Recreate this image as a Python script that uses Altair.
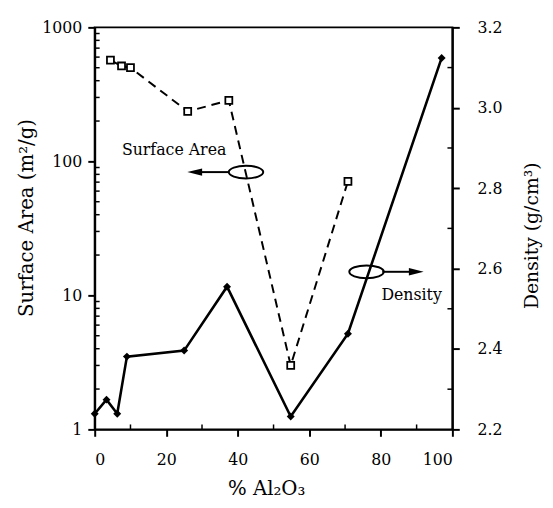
import altair as alt
import pandas as pd

# ---- data ----
dens_x = [0, 3.3, 6.3, 9, 25, 37, 54.8, 70.8, 97]
dens_y = [2.239, 2.274, 2.239, 2.381, 2.396, 2.555, 2.232, 2.438, 3.124]

sa_x = [4.4, 7.5, 10, 26, 37.5, 54.8, 70.8]
sa_y = [570, 515, 500, 236, 285, 3.0, 71]

x_ticks = [0, 20, 40, 60, 80, 100]
x_minor = [10, 30, 50, 70, 90]
sa_ticks = [1, 10, 100, 1000]
sa_minor = [m * 10 ** e for e in range(3) for m in range(2, 10)]
dens_ticks = [2.2, 2.4, 2.6, 2.8, 3.0, 3.2]
dens_minor = [2.3, 2.5, 2.7, 2.9, 3.1]

# annotations (data coordinates on the density scale)
ann_text = ["Surface Area", "Density"]
ann_text_x = [22.2, 88.6]
ann_text_y = [2.896, 2.535]
ell_x = [42.3, 76.0]
ell_y = [2.840, 2.592]
arrow_x1 = [37.5, 80.4]
arrow_x2 = [29.5, 88.2]
arrow_y = [2.840, 2.592]
head_left_x = [27.96]
head_left_y = [2.840]
head_right_x = [89.9]
head_right_y = [2.592]

W, H = 363, 408
FONT = "DejaVu Serif"

xscale = alt.Scale(domain=[0, 100], nice=False, zero=False)
sa_scale = alt.Scale(type="log", domain=[1, 1000], nice=False)
d_scale = alt.Scale(domain=[2.2, 3.2], nice=False, zero=False)

x_axis = alt.Axis(values=x_ticks, title="% Al₂O₃", format="d", tickSize=7,
                  labelPadding=16, titlePadding=11, titleX=174)
left_axis = alt.Axis(values=sa_ticks, format="d", orient="left",
                     title="Surface Area (m²/g)", tickSize=7, labelPadding=6,
                     titlePadding=5, titleY=193)
right_axis = alt.Axis(values=dens_ticks, format=".1f", orient="right",
                      title="Density (g/cm³)", tickSize=7, labelPadding=18,
                      titlePadding=40, titleAngle=270, titleY=211,
                      titleFontSize=19)

X = alt.X("x:Q", scale=xscale, axis=x_axis)

sa_df = pd.DataFrame({"x": sa_x, "sa": sa_y})
YS = alt.Y("sa:Q", scale=sa_scale, axis=left_axis)

sa_line = alt.Chart(sa_df).mark_line(
    color="black", strokeWidth=2, strokeDash=[9, 6]
).encode(x=X, y=YS)
sa_pts = alt.Chart(sa_df).mark_point(
    shape="square", filled=True, fill="white", stroke="black",
    strokeWidth=1.8, size=50, opacity=1
).encode(x=X, y=YS)
sa_minor_rules = alt.Chart(pd.DataFrame({"sa": sa_minor})).mark_rule(
    color="black", strokeWidth=1.5
).encode(y=YS, x=alt.value(0), x2=alt.value(5))

layer_sa = alt.layer(sa_line, sa_pts, sa_minor_rules)

d_df = pd.DataFrame({"x": dens_x, "dens": dens_y})
YD = alt.Y("dens:Q", scale=d_scale, axis=right_axis)

d_line = alt.Chart(d_df).mark_line(color="black", strokeWidth=2.6).encode(x=X, y=YD)
d_pts = alt.Chart(d_df).mark_point(
    shape="diamond", filled=True, color="black", size=65, opacity=1
).encode(x=X, y=YD)
d_minor_rules = alt.Chart(pd.DataFrame({"dens": dens_minor})).mark_rule(
    color="black", strokeWidth=1.5
).encode(y=YD, x=alt.value(W - 5), x2=alt.value(W))
x_minor_rules = alt.Chart(pd.DataFrame({"x": x_minor})).mark_rule(
    color="black", strokeWidth=1.5
).encode(x=X, y=alt.value(H - 5), y2=alt.value(H))

txt = alt.Chart(pd.DataFrame({"x": ann_text_x, "dens": ann_text_y, "t": ann_text})).mark_text(
    font=FONT, fontSize=16, color="black", align="center", baseline="middle"
).encode(x=X, y=YD, text="t:N")

ELLIPSE = ("M -1 0 C -1 -0.2043 -0.5523 -0.37 0 -0.37 C 0.5523 -0.37 1 -0.2043 1 0 "
           "C 1 0.2043 0.5523 0.37 0 0.37 C -0.5523 0.37 -1 0.2043 -1 0 Z")
ell = alt.Chart(pd.DataFrame({"x": ell_x, "dens": ell_y})).mark_point(
    shape=ELLIPSE, filled=False, stroke="black", strokeWidth=2, size=1225, opacity=1
).encode(x=X, y=YD)

arr = alt.Chart(pd.DataFrame({"x": arrow_x1, "x2": arrow_x2, "dens": arrow_y})).mark_rule(
    color="black", strokeWidth=2
).encode(x=X, x2="x2:Q", y=YD)

head_l = alt.Chart(pd.DataFrame({"x": head_left_x, "dens": head_left_y})).mark_point(
    shape="M -1 0 L 1 -0.5 L 1 0.5 Z", filled=True, color="black", size=225, opacity=1
).encode(x=X, y=YD)
head_r = alt.Chart(pd.DataFrame({"x": head_right_x, "dens": head_right_y})).mark_point(
    shape="M 1 0 L -1 -0.5 L -1 0.5 Z", filled=True, color="black", size=225, opacity=1
).encode(x=X, y=YD)

layer_d = alt.layer(d_line, d_pts, d_minor_rules, x_minor_rules, txt, ell, arr, head_l, head_r)

chart = alt.layer(layer_sa, layer_d).resolve_scale(y="independent").properties(
    width=W, height=H, autosize=alt.AutoSizeParams(type="none"),
    padding={"left": 88, "top": 16, "right": 94, "bottom": 68},
).configure_axis(
    labelFont=FONT, labelFontSize=16, titleFont=FONT, titleFontSize=20,
    titleFontWeight="normal", labelColor="black", titleColor="black",
    domainColor="black", domainWidth=2, tickColor="black", tickWidth=2,
    grid=False,
).configure_view(stroke="black", strokeWidth=2)

chart.save("out.html", embed_options={"renderer": "svg", "actions": False})
